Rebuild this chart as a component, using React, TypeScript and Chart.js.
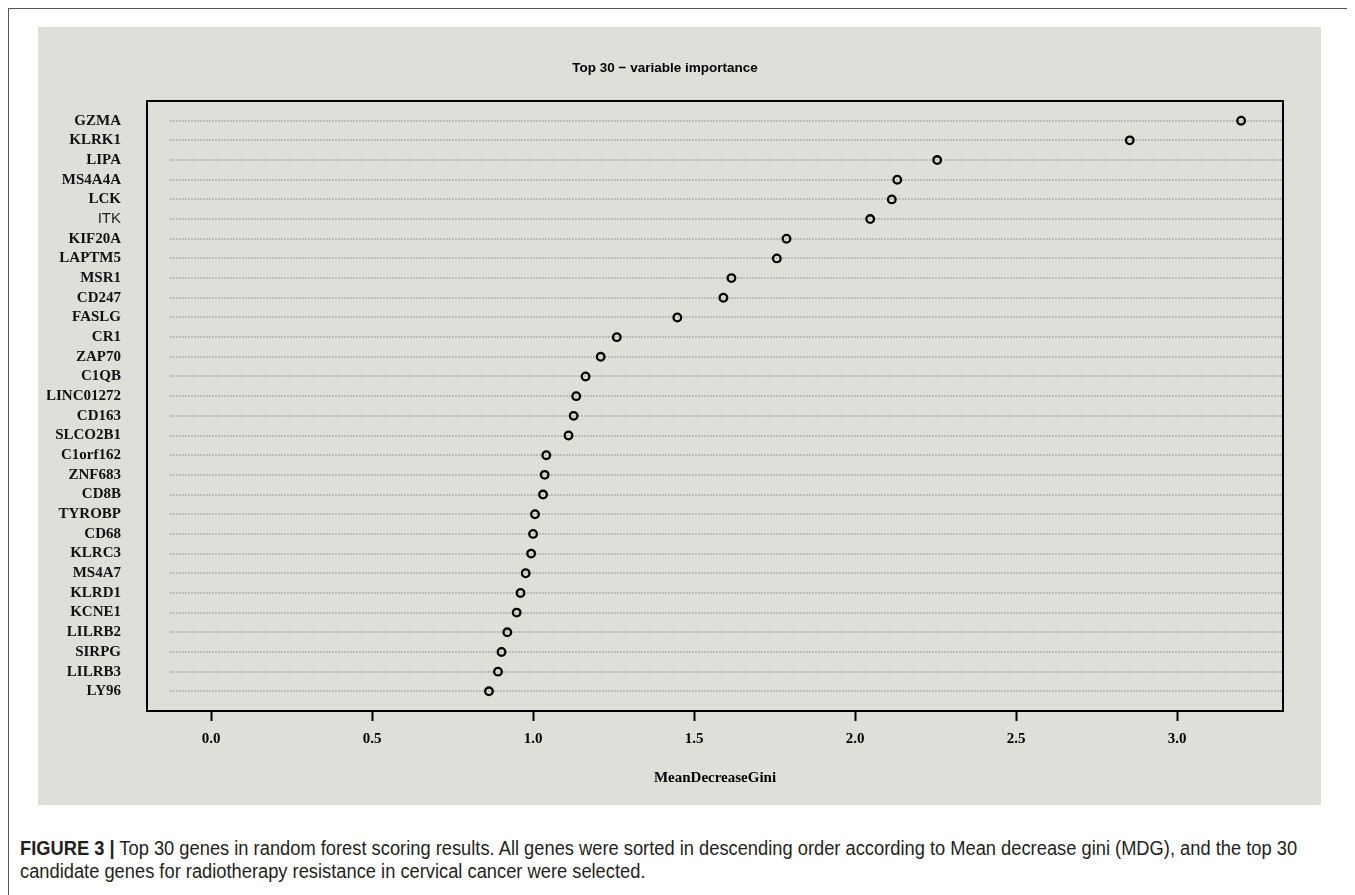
import React, { useEffect, useLayoutEffect, useRef } from "react";
import { Chart, registerables } from "chart.js";

Chart.register(...registerables);

const genes = [
  "GZMA", "KLRK1", "LIPA", "MS4A4A", "LCK", "ITK", "KIF20A", "LAPTM5", "MSR1", "CD247",
  "FASLG", "CR1", "ZAP70", "C1QB", "LINC01272", "CD163", "SLCO2B1", "C1orf162", "ZNF683", "CD8B",
  "TYROBP", "CD68", "KLRC3", "MS4A7", "KLRD1", "KCNE1", "LILRB2", "SIRPG", "LILRB3", "LY96",
];
const meanDecreaseGini = [
  3.199, 2.853, 2.255, 2.131, 2.114, 2.047, 1.787, 1.757, 1.616, 1.591,
  1.448, 1.26, 1.21, 1.163, 1.134, 1.126, 1.11, 1.041, 1.036, 1.031,
  1.006, 1.0, 0.994, 0.977, 0.961, 0.949, 0.92, 0.902, 0.891, 0.863,
];
const xTickValues = [0, 0.5, 1, 1.5, 2, 2.5, 3];
const xTickLabels = ["0.0", "0.5", "1.0", "1.5", "2.0", "2.5", "3.0"];
const xMin = -0.199;
const xMax = 3.329;
const dotLineStart = -0.127;

const serifBold = { family: '"Liberation Serif", "Times New Roman", serif', size: 15, weight: "bold" as const };
const sansPlain = { family: '"Liberation Sans", Arial, sans-serif', size: 15, weight: "normal" as const };

const dottedRows = {
  id: "dottedRows",
  beforeDatasetsDraw(chart: any) {
    const { ctx, chartArea, scales } = chart;
    const xs = scales.x;
    const ys = scales.y;
    ctx.save();
    ctx.strokeStyle = "#a2a29f";
    ctx.lineWidth = 1.6;
    ctx.setLineDash([1.5, 1.5]);
    genes.forEach((_, i) => {
      const y = Math.round(ys.getPixelForValue(i + 1));
      ctx.beginPath();
      ctx.moveTo(xs.getPixelForValue(dotLineStart), y);
      ctx.lineTo(chartArea.right - 1, y);
      ctx.stroke();
    });
    ctx.restore();
  },
};

const plotBox = {
  id: "plotBox",
  afterDatasetsDraw(chart: any) {
    const { ctx, chartArea } = chart;
    ctx.save();
    ctx.strokeStyle = "#000";
    ctx.lineWidth = 2;
    ctx.strokeRect(chartArea.left, chartArea.top, chartArea.right - chartArea.left, chartArea.bottom - chartArea.top);
    ctx.restore();
  },
};

function DotChart() {
  const ref = useRef<HTMLCanvasElement | null>(null);
  useEffect(() => {
    if (!ref.current) return;
    const chart = new Chart(ref.current, {
      type: "scatter",
      data: {
        datasets: [
          {
            data: genes.map((g, i) => ({ x: meanDecreaseGini[i], y: i + 1 })),
            pointStyle: "circle",
            pointRadius: 3.8,
            pointBorderWidth: 2.3,
            pointBorderColor: "#000",
            pointBackgroundColor: "rgba(0,0,0,0)",
            showLine: false,
          },
        ],
      },
      options: {
        responsive: false,
        animation: false,
        events: [],
        layout: { padding: { left: 9, right: 9, top: 0, bottom: 0 } },
        plugins: {
          legend: { display: false },
          tooltip: { enabled: false },
          title: {
            display: true,
            text: "Top 30 \u2212 variable importance",
            color: "#000",
            font: { family: '"Liberation Sans", Arial, sans-serif', size: 13.5, weight: "bold" },
            padding: { top: 33, bottom: 24.8 },
          },
        },
        scales: {
          x: {
            type: "linear",
            min: xMin,
            max: xMax,
            afterBuildTicks: (scale: any) => {
              scale.ticks = xTickValues.map((v) => ({ value: v }));
            },
            ticks: {
              autoSkip: false,
              color: "#000",
              font: serifBold,
              padding: 9,
              maxRotation: 0,
              callback: (v: any) => {
                const i = xTickValues.indexOf(Number(v));
                return i >= 0 ? xTickLabels[i] : "";
              },
            },
            grid: {
              drawOnChartArea: false,
              drawTicks: true,
              tickLength: 10,
              tickWidth: 2,
              tickColor: "#000",
              color: "#000",
            },
            border: { display: false },
            title: {
              display: true,
              text: "MeanDecreaseGini",
              color: "#000",
              font: serifBold,
              padding: { top: 12, bottom: 18 },
            },
          },
          y: {
            type: "linear",
            reverse: true,
            min: 0,
            max: 31,
            afterBuildTicks: (scale: any) => {
              scale.ticks = genes.map((_, i) => ({ value: i + 1 }));
            },
            afterFit: (scale: any) => {
              scale.width = 100;
            },
            ticks: {
              autoSkip: false,
              padding: 26,
              color: (ctx: any) => (genes[ctx.index] === "ITK" ? "#222" : "#111"),
              font: (ctx: any) => (genes[ctx.index] === "ITK" ? sansPlain : serifBold),
              callback: (v: any) => genes[Number(v) - 1] ?? "",
            },
            grid: { display: false, drawTicks: false },
            border: { display: false },
          },
        },
      },
      plugins: [dottedRows, plotBox],
    });
    return () => chart.destroy();
  }, []);
  return <canvas ref={ref} width={1254} height={778} style={{ position: "absolute", left: 29, top: 18, display: "block" }} />;
}

function Caption() {
  const line1 = useRef<HTMLDivElement | null>(null);
  const line2 = useRef<HTMLDivElement | null>(null);
  useLayoutEffect(() => {
    const el = line1.current;
    const el2 = line2.current;
    if (!el || !el2) return;
    const w = el.scrollWidth;
    const s = 1277 / w;
    el.style.transform = `scaleX(${s})`;
    el2.style.transform = `scaleX(${s})`;
  }, []);
  const common: React.CSSProperties = {
    position: "absolute",
    left: 11,
    whiteSpace: "nowrap",
    transformOrigin: "0 0",
    fontFamily: '"Liberation Sans", Arial, sans-serif',
    fontSize: 19.5,
    lineHeight: "23px",
    color: "#231f20",
    display: "inline-block",
  };
  return (
    <>
      <div ref={line1} style={{ ...common, top: 828 }}>
        <b>FIGURE 3 |</b> Top 30 genes in random forest scoring results. All genes were sorted in descending order according to Mean decrease gini (MDG), and the top 30
      </div>
      <div ref={line2} style={{ ...common, top: 851 }}>
        candidate genes for radiotherapy resistance in cervical cancer were selected.
      </div>
    </>
  );
}

export default function App() {
  return (
    <div
      style={{
        position: "relative",
        width: 1347,
        height: 887,
        borderTop: "1px solid #555",
        borderLeft: "1px solid #555",
        boxSizing: "border-box",
        overflow: "hidden",
        background: "#fff",
      }}
    >
      <div style={{ position: "absolute", left: 29, top: 18, width: 1283, height: 778, background: "#dfded9" }} />
      <DotChart />
      <Caption />
    </div>
  );
}
